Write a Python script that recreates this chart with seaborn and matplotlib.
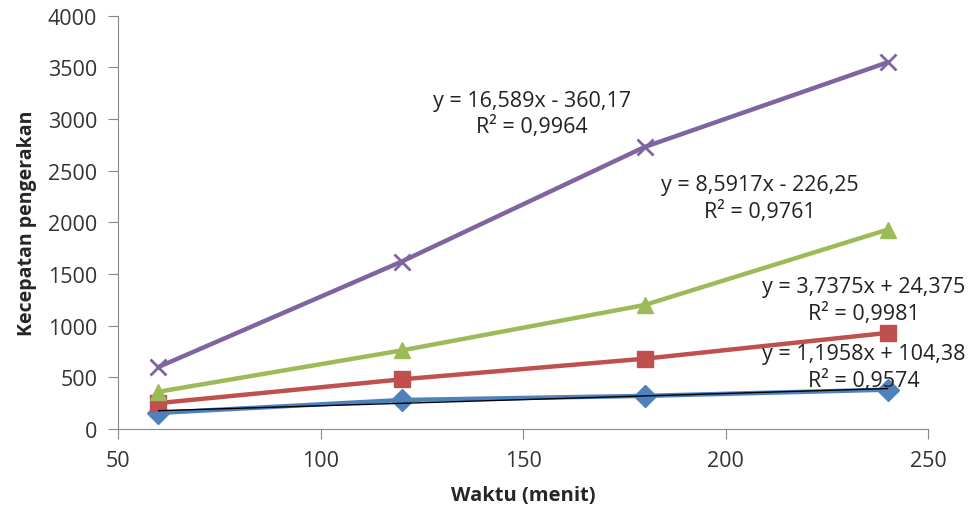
import numpy as np
import pandas as pd
import seaborn as sns
import matplotlib.pyplot as plt

waktu = [60, 120, 180, 240]
seri_1 = [155, 280, 320, 380]
seri_2 = [250, 480, 680, 930]
seri_3 = [360, 760, 1200, 1930]
seri_4 = [600, 1620, 2730, 3550]
nama_seri = ["Seri 1", "Seri 2", "Seri 3", "Seri 4"]
warna = ["#4F81BD", "#C0504D", "#9BBB59", "#8064A2"]
penanda = ["D", "s", "^", "x"]
persamaan = [
    "y = 1,1958x + 104,38\nR² = 0,9574",
    "y = 3,7375x + 24,375\nR² = 0,9981",
    "y = 8,5917x - 226,25\nR² = 0,9761",
    "y = 16,589x - 360,17\nR² = 0,9964",
]
posisi_label = [(234, 600), (234, 1249), (208.5, 2237), (152.2, 3051)]


def main():
    sns.set_style("ticks")
    plt.rcParams['font.family'] = ['Open Sans', 'DejaVu Sans']

    semua = [seri_1, seri_2, seri_3, seri_4]
    df = pd.DataFrame({
        "waktu": waktu * 4,
        "nilai": sum(semua, []),
        "seri": np.repeat(nama_seri, len(waktu)),
    })

    fig = plt.figure(figsize=(9.75, 5.1), dpi=100)
    ax = fig.add_axes([0.121, 0.157, 0.831, 0.81])

    for nama, c, m in zip(nama_seri, warna, penanda):
        sub = df[df["seri"] == nama]
        sns.lineplot(data=sub, x="waktu", y="nilai", color=c, marker=m,
                     linewidth=3.2, markersize=12 if m == "x" else 11,
                     markeredgewidth=2 if m == "x" else 1,
                     markeredgecolor=c, ax=ax)

    # garis tren (hanya yang biru terlihat hitam)
    sns.regplot(x=waktu, y=seri_1, scatter=False, ci=None, color="black",
                line_kws={"linewidth": 1}, ax=ax)

    for teks, (x, y) in zip(persamaan, posisi_label):
        ax.text(x, y, teks, ha="center", va="center", multialignment="center",
                fontsize=15.5, color="#222222", linespacing=1.25, clip_on=False)

    ax.set_xlim(50, 250)
    ax.set_ylim(0, 4000)
    ax.set_xticks([50, 100, 150, 200, 250])
    ax.set_yticks(range(0, 4001, 500))
    ax.set_xlabel("Waktu (menit)", fontsize=14.5, fontweight="bold", labelpad=10)
    ax.set_ylabel("Kecepatan pengerakan", fontsize=14, fontweight="bold", labelpad=8)
    ax.tick_params(labelsize=15.5, colors="#333333", color="#888888", length=7)
    ax.tick_params(axis="x", pad=8)
    ax.tick_params(axis="y", pad=8)
    sns.despine(ax=ax)
    for s in ["left", "bottom"]:
        ax.spines[s].set_color("#888888")

    fig.savefig("out.png", dpi=100)


if __name__ == "__main__":
    main()
